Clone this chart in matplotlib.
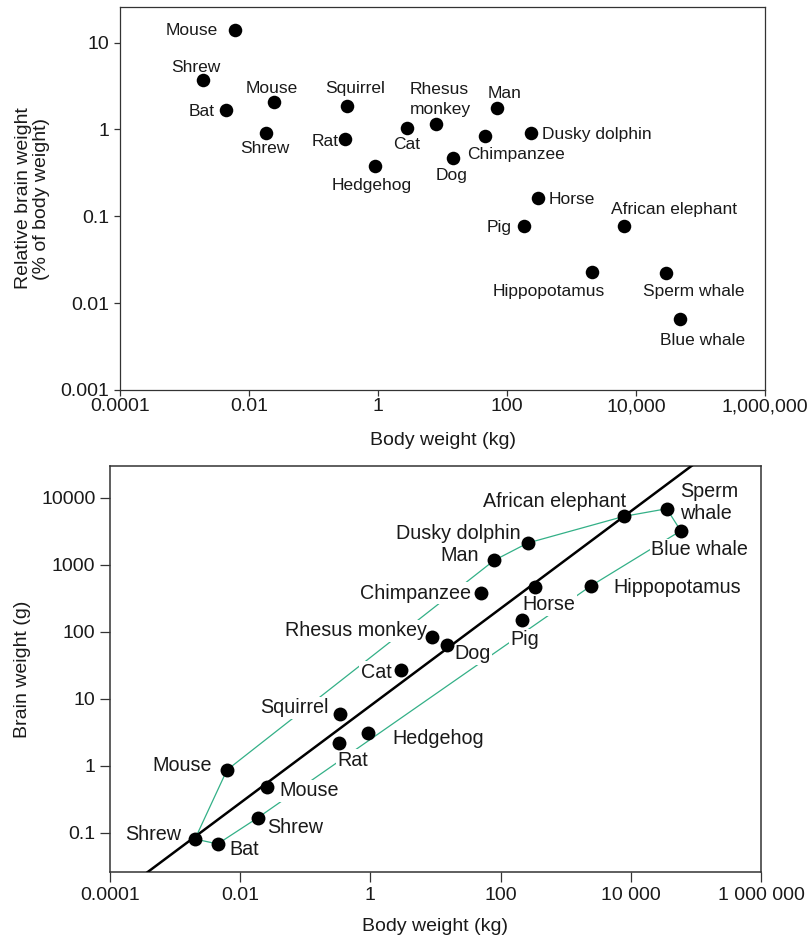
import matplotlib
matplotlib.use("Agg")
import matplotlib.pyplot as plt
import numpy as np

plt.rcParams['font.family'] = ['Liberation Sans', 'DejaVu Sans']

# --- top panel: relative brain weight ---
top_names = ["Mouse", "Shrew", "Bat", "Mouse", "Shrew", "Squirrel", "Rat", "Hedgehog",
             "Cat", "Rhesus\nmonkey", "Dog", "Chimpanzee", "Man", "Dusky dolphin",
             "Horse", "Pig", "African elephant", "Hippopotamus", "Sperm whale", "Blue whale"]
top_body_kg = [0.0060, 0.00193, 0.00437, 0.0242, 0.0182, 0.327, 0.304, 0.885,
               2.77, 8.07, 14.3, 46.4, 71, 239,
               306, 186, 6560, 2100, 29300, 48300]
top_rel_brain = [13.9, 3.67, 1.66, 2.05, 0.92, 1.84, 0.767, 0.384,
                 1.03, 1.17, 0.475, 0.83, 1.75, 0.92,
                 0.164, 0.078, 0.078, 0.023, 0.0224, 0.0065]
top_xticks = [1e-4, 1e-2, 1, 1e2, 1e4, 1e6]
top_xticklabels = ["0.0001", "0.01", "1", "100", "10,000", "1,000,000"]
top_yticks = [1e-3, 1e-2, 1e-1, 1, 10]
top_yticklabels = ["0.001", "0.01", "0.1", "1", "10"]

# --- bottom panel: absolute brain weight ---
bot_names = ["Shrew", "Bat", "Mouse", "Mouse", "Shrew", "Squirrel", "Rat", "Hedgehog",
             "Cat", "Rhesus monkey", "Dog", "Chimpanzee", "Man", "Dusky dolphin",
             "Horse", "Pig", "Hippopotamus", "African elephant", "Sperm\nwhale", "Blue whale"]
bot_body_kg = [0.00202, 0.0045, 0.00627, 0.0256, 0.01845, 0.341, 0.334, 0.918,
               2.92, 8.75, 15.2, 50.6, 79.3, 261,
               337, 213, 2450, 7780, 35600, 58500]
bot_brain_g = [0.0813, 0.0686, 0.87, 0.486, 0.1675, 5.97, 2.23, 3.11,
               26.8, 84, 64, 378, 1160, 2110,
               474, 151, 486, 5260, 6850, 3210]
# envelope vertices (indices into the bottom arrays)
upper_hull = [0, 2, 12, 13, 17, 18, 19]
lower_hull = [0, 1, 4, 16, 19]
fit_coef = 7.9
fit_exp = 0.725
bot_xticklabels = ["0.0001", "0.01", "1", "100", "10 000", "1 000 000"]
bot_yticks = [0.1, 1, 10, 100, 1000, 10000]
bot_yticklabels = ["0.1", "1", "10", "100", "1000", "10000"]

# label placement: (dx px, dy px, ha)
top_lbl = [(-17, 1, 'right'), (-7, 14, 'center'), (-11, 0, 'right'), (-2, 15, 'center'),
           (-1, -14, 'center'), (8, 19, 'center'), (-6, -1, 'right'), (-3, -18, 'center'),
           (0, -15, 'center'), (4, 28, 'center'), (-1, -16, 'center'), (-18, -17, 'left'),
           (7, 16, 'center'), (11, 0, 'left'), (10, 0, 'left'), (-13, 0, 'right'),
           (-13, 18, 'left'), (-44, -18, 'center'), (28, -17, 'center'), (22, -20, 'center')]
bot_lbl = [(-14, 7, 'right'), (12, -4, 'left'), (-15, 6, 'right'), (13, -2, 'left'),
           (10, -8, 'left'), (-11, 8, 'right'), (-2, -16, 'left'), (24, -4, 'left'),
           (-9, 0, 'right'), (-5, 8, 'right'), (7, -7, 'left'), (-10, 2, 'right'),
           (-15, 7, 'right'), (-7, 12, 'right'), (14, -16, 'center'), (3, -18, 'center'),
           (22, 0, 'left'), (2, 17, 'right'), (13, 10, 'left'), (19, -17, 'center')]

txt_col = '#1a1a1a'
green = '#33b087'

fig = plt.figure(figsize=(8.11, 9.43), dpi=100)

# ---------------- top ----------------
ax1 = fig.add_axes([120/811, 1-390/943, 645/811, 383/943])
ax1.set_xscale('log')
ax1.set_yscale('log')
ax1.set_xlim(1e-4, 1e6)
ax1.set_ylim(1e-3, 10**1.41)
ax1.scatter(top_body_kg, top_rel_brain, s=95, color='black', zorder=5, linewidths=0)
for name, x, y, (dx, dy, ha) in zip(top_names, top_body_kg, top_rel_brain, top_lbl):
    ax1.annotate(name, (x, y), xytext=(dx, dy), textcoords='offset pixels',
                 ha=ha, va='center_baseline', fontsize=12.5, color=txt_col,
                 multialignment='left', linespacing=1.4)
ax1.set_xticks(top_xticks, top_xticklabels)
ax1.set_yticks(top_yticks, top_yticklabels)
ax1.minorticks_off()
ax1.tick_params(direction='out', length=4.5, width=0.9, labelsize=14,
                colors='#333333', labelcolor=txt_col)
ax1.tick_params(axis='x', pad=1.5)
ax1.tick_params(axis='y', pad=3.5)
for sp in ax1.spines.values():
    sp.set_color('#333333')
    sp.set_linewidth(0.9)
ax1.set_xlabel('Body weight (kg)', fontsize=14, color=txt_col)
ax1.set_ylabel('Relative brain weight\n(% of body weight)', fontsize=14, color=txt_col,
               linespacing=1.1)
ax1.xaxis.set_label_coords(0.5, -0.11)
ax1.yaxis.set_label_coords(-0.108, 0.5)

# ---------------- bottom ----------------
ax2 = fig.add_axes([110/811, 1-872/943, 651/811, 406/943])
ax2.set_xscale('log')
ax2.set_yscale('log')
ax2.set_xlim(1e-4, 1e6)
ax2.set_ylim(10**-1.582, 10**4.473)

bx = np.array(bot_body_kg)
by = np.array(bot_brain_g)
ax2.plot(bx[upper_hull], by[upper_hull], color=green, lw=0.9, zorder=1)
ax2.plot(bx[lower_hull], by[lower_hull], color=green, lw=0.9, zorder=1)

xf = np.logspace(-4, 6, 50)
ax2.plot(xf, fit_coef * xf ** fit_exp, color='black', lw=1.8, zorder=4)

ax2.scatter(bx, by, s=100, color='black', zorder=5, linewidths=0)
for name, x, y, (dx, dy, ha) in zip(bot_names, bot_body_kg, bot_brain_g, bot_lbl):
    ax2.annotate(name, (x, y), xytext=(dx, dy), textcoords='offset pixels',
                 ha=ha, va='center_baseline', fontsize=14.2, color=txt_col,
                 multialignment='left', linespacing=1.2, zorder=3,
                 bbox=dict(boxstyle='square,pad=0.08', fc='white', ec='none'))

ax2.set_xticks(top_xticks, bot_xticklabels)
ax2.set_yticks(bot_yticks, bot_yticklabels)
ax2.minorticks_off()
ax2.tick_params(direction='out', length=7, width=0.9, labelsize=14,
                colors='#333333', labelcolor=txt_col)
ax2.tick_params(axis='x', pad=4)
ax2.tick_params(axis='y', pad=3.5)
for sp in ax2.spines.values():
    sp.set_color('#333333')
    sp.set_linewidth(1.1)
ax2.set_xlabel('Body weight (kg)', fontsize=14, color=txt_col)
ax2.set_ylabel('Brain weight (g)', fontsize=14, color=txt_col)
ax2.xaxis.set_label_coords(0.5, -0.113)
ax2.yaxis.set_label_coords(-0.122, 0.5)

fig.savefig('out.png', dpi=100)
